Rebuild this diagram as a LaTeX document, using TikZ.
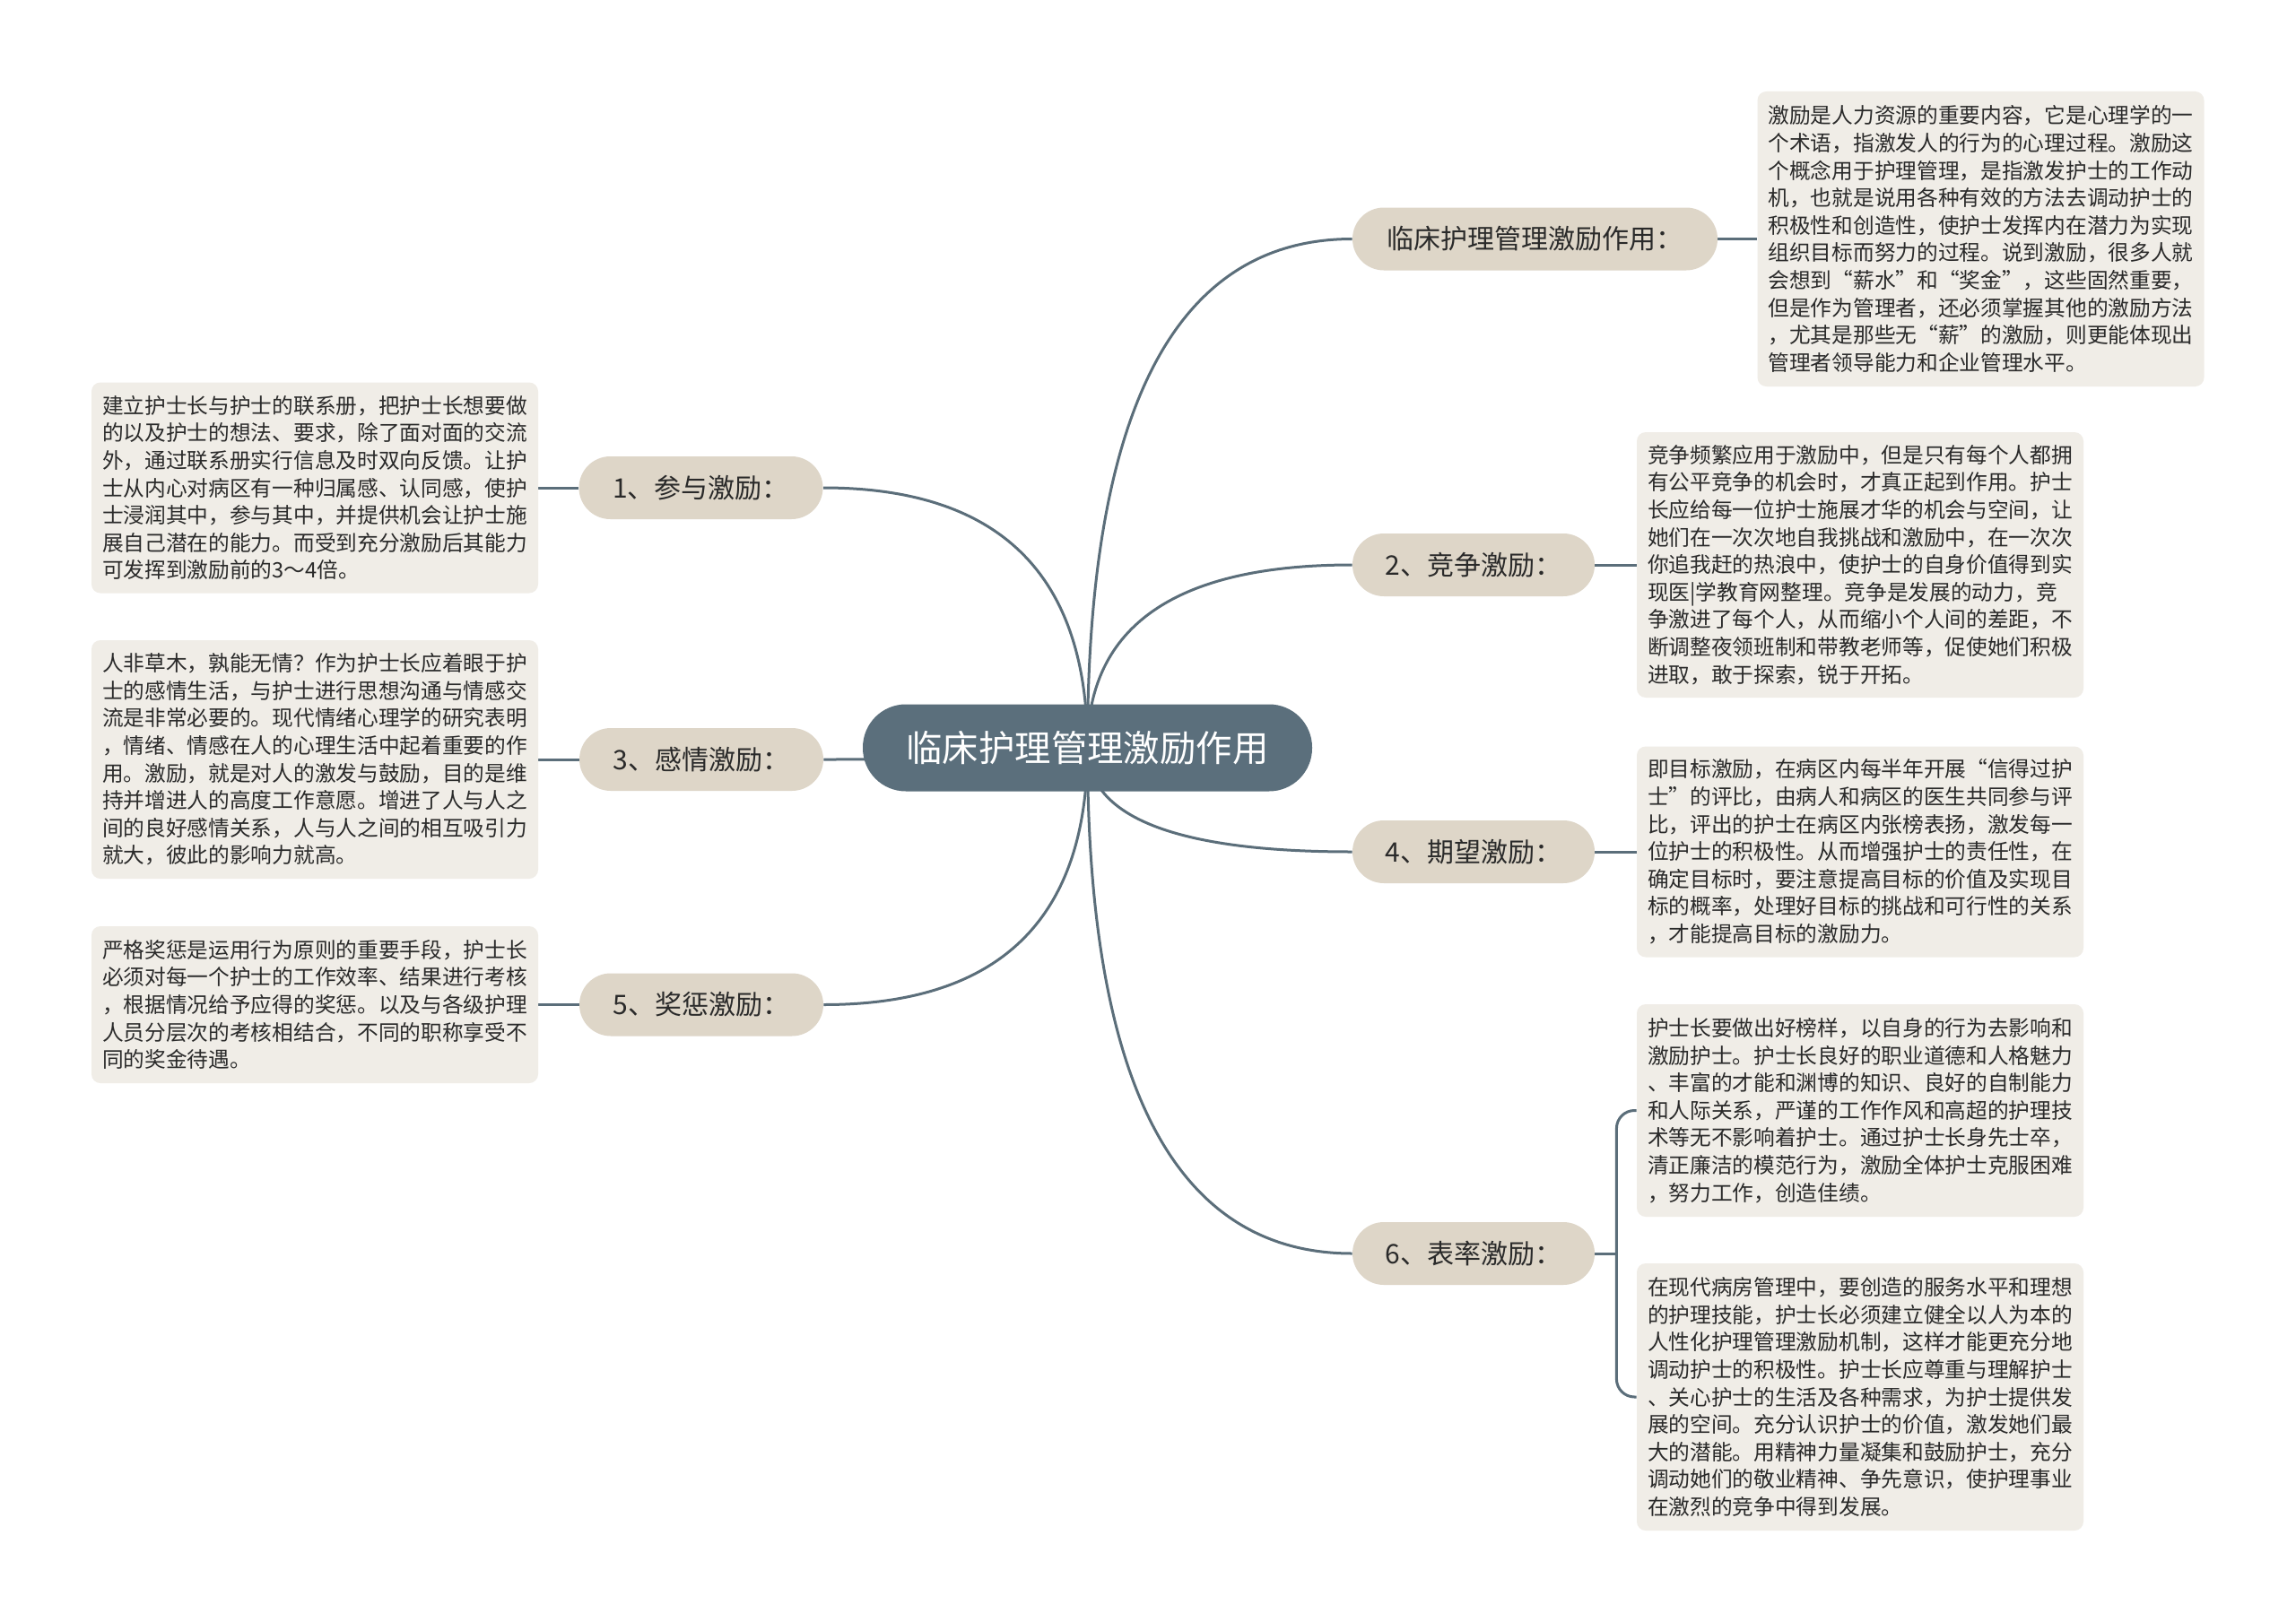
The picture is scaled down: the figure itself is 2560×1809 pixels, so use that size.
\documentclass[tikz,border=0pt]{standalone}
\usepackage{fontspec}
\setmainfont{Noto Sans CJK SC}
\usetikzlibrary{calc,backgrounds}
\definecolor{linec}{HTML}{5B6E7A}
\definecolor{centerc}{HTML}{5B6F7C}
\definecolor{branchc}{HTML}{DED6C8}
\definecolor{boxc}{HTML}{F0EDE7}
\definecolor{txtc}{HTML}{2A2A2A}
\tikzset{
  centernode/.style={fill=centerc, text=white, rounded corners=24pt, minimum width=250.5pt, minimum height=48.5pt, font=\fontsize{20.2}{24}\selectfont, inner sep=0pt},
  branchnode/.style={fill=branchc, text=txtc, rounded corners=17.5pt, minimum height=35pt, font=\fontsize{15}{18}\selectfont, inner sep=0pt},
  textbox/.style={fill=boxc, text=txtc, rounded corners=5pt, minimum width=249pt, align=left, font=\fontsize{11.85}{15.3}\selectfont, inner sep=0pt},
  conn/.style={draw=linec, line width=1.5pt},
}
\newcommand\mmcurve[2]{\draw[conn] (#1) .. controls ($(#1)!0.667!(#1|-#2)$) and ($(#2)!0.667!(#1|-#2)$) .. (#2);}
\begin{document}
\begin{tikzpicture}[x=0.5pt,y=-0.5pt]
\useasboundingbox (0,0) rectangle (2560,1809);
% center
\node[centernode] (c) at (1212.5,834) {临床护理管理激励作用};
% branch nodes
\node[branchnode, minimum width=203.5pt] (n0) at (1711.5,266.5) {临床护理管理激励作用：};
\node[branchnode, minimum width=135pt] (n2) at (1643,630) {2、竞争激励：};
\node[branchnode, minimum width=135pt] (n4) at (1643,950) {4、期望激励：};
\node[branchnode, minimum width=135pt] (n6) at (1643,1398) {6、表率激励：};
\node[branchnode, minimum width=136pt] (n1) at (781.5,544) {1、参与激励：};
\node[branchnode, minimum width=136pt] (n3) at (782,847) {3、感情激励：};
\node[branchnode, minimum width=136pt] (n5) at (782,1120.5) {5、奖惩激励：};
% text boxes
\node[textbox, minimum height=164.5pt] (b0) at (2208.5,266.5) {激励是人力资源的重要内容，它是心理学的一\\个术语，指激发人的行为的心理过程。激励这\\个概念用于护理管理，是指激发护士的工作动\\机，也就是说用各种有效的方法去调动护士的\\积极性和创造性，使护士发挥内在潜力为实现\\组织目标而努力的过程。说到激励，很多人就\\会想到“薪水”和“奖金”，这些固然重要，\\但是作为管理者，还必须掌握其他的激励方法\\，尤其是那些无“薪”的激励，则更能体现出\\管理者领导能力和企业管理水平。};
\node[textbox, minimum height=148pt] (b2) at (2074,630) {竞争频繁应用于激励中，但是只有每个人都拥\\有公平竞争的机会时，才真正起到作用。护士\\长应给每一位护士施展才华的机会与空间，让\\她们在一次次地自我挑战和激励中，在一次次\\你追我赶的热浪中，使护士的自身价值得到实\\现医|学教育网整理。竞争是发展的动力，竞\\争激进了每个人，从而缩小个人间的差距，不\\断调整夜领班制和带教老师等，促使她们积极\\进取，敢于探索，锐于开拓。};
\node[textbox, minimum height=117.5pt] (b4) at (2074,950) {即目标激励，在病区内每半年开展“信得过护\\士”的评比，由病人和病区的医生共同参与评\\比，评出的护士在病区内张榜表扬，激发每一\\位护士的积极性。从而增强护士的责任性，在\\确定目标时，要注意提高目标的价值及实现目\\标的概率，处理好目标的挑战和可行性的关系\\，才能提高目标的激励力。};
\node[textbox, minimum height=118.5pt] (b6a) at (2074,1238.5) {护士长要做出好榜样，以自身的行为去影响和\\激励护士。护士长良好的职业道德和人格魅力\\、丰富的才能和渊博的知识、良好的自制能力\\和人际关系，严谨的工作作风和高超的护理技\\术等无不影响着护士。通过护士长身先士卒，\\清正廉洁的模范行为，激励全体护士克服困难\\，努力工作，创造佳绩。};
\node[textbox, minimum height=149pt] (b6b) at (2074,1558) {在现代病房管理中，要创造的服务水平和理想\\的护理技能，护士长必须建立健全以人为本的\\人性化护理管理激励机制，这样才能更充分地\\调动护士的积极性。护士长应尊重与理解护士\\、关心护士的生活及各种需求，为护士提供发\\展的空间。充分认识护士的价值，激发她们最\\大的潜能。用精神力量凝集和鼓励护士，充分\\调动她们的敬业精神、争先意识，使护理事业\\在激烈的竞争中得到发展。};
\node[textbox, minimum height=117.5pt] (b1) at (351,544) {建立护士长与护士的联系册，把护士长想要做\\的以及护士的想法、要求，除了面对面的交流\\外，通过联系册实行信息及时双向反馈。让护\\士从内心对病区有一种归属感、认同感，使护\\士浸润其中，参与其中，并提供机会让护士施\\展自己潜在的能力。而受到充分激励后其能力\\可发挥到激励前的3～4倍。};
\node[textbox, minimum height=133pt] (b3) at (351,847) {人非草木，孰能无情？作为护士长应着眼于护\\士的感情生活，与护士进行思想沟通与情感交\\流是非常必要的。现代情绪心理学的研究表明\\，情绪、情感在人的心理生活中起着重要的作\\用。激励，就是对人的激发与鼓励，目的是维\\持并增进人的高度工作意愿。增进了人与人之\\间的良好感情关系，人与人之间的相互吸引力\\就大，彼此的影响力就高。};
\node[textbox, minimum height=87.5pt] (b5) at (351,1120.5) {严格奖惩是运用行为原则的重要手段，护士长\\必须对每一个护士的工作效率、结果进行考核\\，根据情况给予应得的奖惩。以及与各级护理\\人员分层次的考核相结合，不同的职称享受不\\同的奖金待遇。};
\begin{pgfonlayer}{background}
\fill[white] (0,0) rectangle (2560,1809);
\mmcurve{c.center}{n0.west}
\mmcurve{c.center}{n2.west}
\mmcurve{c.center}{n4.west}
\mmcurve{c.center}{n6.west}
\mmcurve{c.center}{n1.east}
\mmcurve{c.center}{n3.east}
\mmcurve{c.center}{n5.east}
\draw[conn] (n0.east) -- (b0.west);
\draw[conn] (n2.east) -- (b2.west);
\draw[conn] (n4.east) -- (b4.west);
\draw[conn] (n1.west) -- (b1.east);
\draw[conn] (n3.west) -- (b3.east);
\draw[conn] (n5.west) -- (b5.east);
\draw[conn] (n6.east) -- ++(12pt,0) coordinate (j6);
\draw[conn, rounded corners=10pt] (j6) |- (b6a.west);
\draw[conn, rounded corners=10pt] (j6) |- (b6b.west);
\end{pgfonlayer}
\end{tikzpicture}
\end{document}
